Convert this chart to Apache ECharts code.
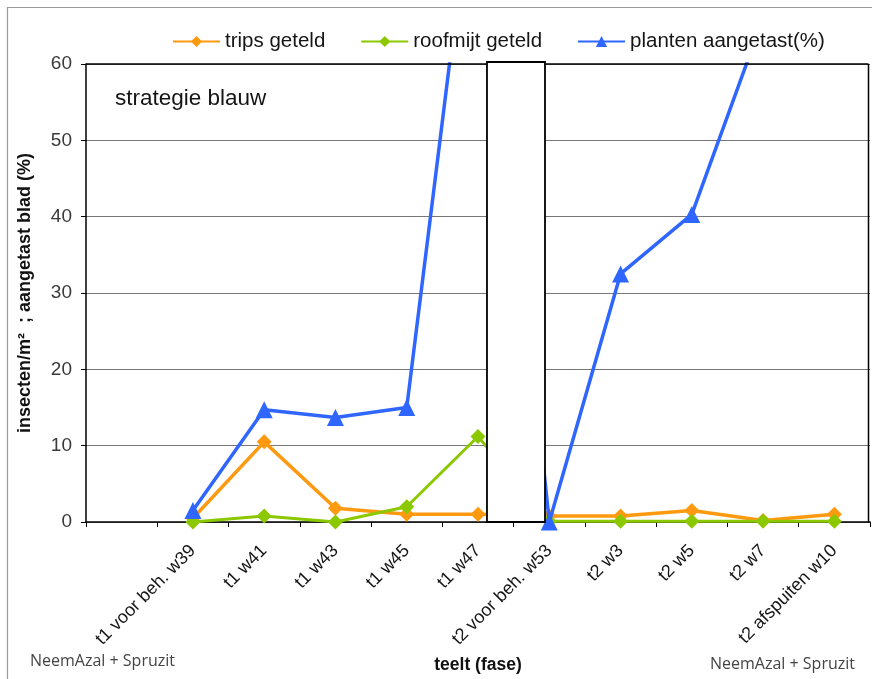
<!DOCTYPE html>
<html>
<head>
<meta charset="utf-8">
<script src="https://cdn.jsdelivr.net/npm/echarts@6/dist/echarts.min.js"></script>
<style>
html,body{margin:0;padding:0;background:#fff;}
#chart{width:872px;height:679px;}
</style>
</head>
<body>
<div id="chart"></div>
<script>
// Categories (first slot intentionally empty)
const categories = ['', 't1 voor beh. w39', 't1 w41', 't1 w43', 't1 w45', 't1 w47',
  't2 voor beh. w53', 't2 w3', 't2 w5', 't2 w7', 't2 afspuiten w10'];
const trips   = [null, 0.5, 10.5, 1.8, 1.0, 1.0, 0.8, 0.8, 1.5, 0.2, 1.0];
const roofmijt = [null, 0.0, 0.8, 0.0, 2.0, 11.2, 0.1, 0.1, 0.1, 0.1, 0.1];
const planten = [null, 1.5, 14.7, 13.7, 15.0, 90, 0.0, 32.5, 40.3, 66, null];
const yTicks = { min: 0, max: 60, interval: 10 };

const font = 'Liberation Sans, Arial, sans-serif';
const noteFont = '"Open Sans", "Noto Sans", sans-serif';
const chart = echarts.init(document.getElementById('chart'));

const option = {
  backgroundColor: '#fff',
  animation: false,
  legend: {
    top: 26,
    left: 167,
    itemWidth: 47,
    itemHeight: 14,
    itemGap: 35,
    textStyle: { fontFamily: font, fontSize: 20.5, color: '#151515' },
    data: ['trips geteld', 'roofmijt geteld', 'planten aangetast(%)']
  },
  grid: { left: 86, right: 2, top: 64, bottom: 155, containLabel: false },
  xAxis: {
    type: 'category',
    data: categories,
    boundaryGap: true,
    name: 'teelt (fase)',
    nameLocation: 'middle',
    nameGap: 134,
    nameTextStyle: { fontFamily: font, fontSize: 17.5, fontWeight: 'bold', color: '#111' },
    axisLine: { lineStyle: { color: '#000', width: 1.5 } },
    axisTick: { show: true, length: 5, inside: false, lineStyle: { color: '#000' } },
    axisLabel: { rotate: 45, interval: 0, fontFamily: font, fontSize: 18, color: '#151515', margin: 26 },
    splitLine: { show: false }
  },
  yAxis: {
    type: 'value',
    min: yTicks.min, max: yTicks.max, interval: yTicks.interval,
    name: 'insecten/m²  ; aangetast blad (%)',
    nameLocation: 'middle',
    nameGap: 52,
    nameTextStyle: { fontFamily: font, fontSize: 18, fontWeight: 'bold', color: '#111' },
    axisLine: { show: true, lineStyle: { color: '#000', width: 1.5 } },
    axisTick: { show: true, length: 5, lineStyle: { color: '#000' } },
    axisLabel: { fontFamily: font, fontSize: 19, color: '#3a3a3a', margin: 14 },
    splitLine: { show: true, lineStyle: { color: '#777', width: 1 } }
  },
  series: [
    {
      name: 'trips geteld', type: 'line', data: trips,
      symbol: 'diamond', symbolSize: 15,
      lineStyle: { color: '#FF9A10', width: 3.5 },
      itemStyle: { color: '#FF9A10' }, z: 3
    },
    {
      name: 'roofmijt geteld', type: 'line', data: roofmijt,
      symbol: 'diamond', symbolSize: 15,
      lineStyle: { color: '#8CC800', width: 3 },
      itemStyle: { color: '#8CC800' }, z: 4
    },
    {
      name: 'planten aangetast(%)', type: 'line', data: planten,
      symbol: 'triangle', symbolSize: 17,
      lineStyle: { color: '#2F66FF', width: 3.5 },
      itemStyle: { color: '#2F66FF' }, z: 5
    }
  ]
};
chart.setOption(option);

// Frame, season break panel and annotations
function drawOverlay() {
  const x5 = chart.convertToPixel({ xAxisIndex: 0 }, 't1 w47');
  const x6 = chart.convertToPixel({ xAxisIndex: 0 }, 't2 voor beh. w53');
  const yTop = chart.convertToPixel({ yAxisIndex: 0 }, yTicks.max);
  const yBot = chart.convertToPixel({ yAxisIndex: 0 }, yTicks.min);
  const xL = chart.convertToPixel({ xAxisIndex: 0 }, categories[0]);
  const step = x6 - x5;
  const gx0 = x5 + step * 0.126;
  const gx1 = x6 - step * 0.06;
  const plotLeft = xL - step / 2;
  const plotRight = xL - step / 2 + step * categories.length;
  chart.setOption({
    graphic: [
      { type: 'rect', z: 0, silent: true,
        shape: { x: 7.5, y: 7.5, width: 900, height: 700 },
        style: { fill: 'none', stroke: '#9a9a9a', lineWidth: 1.2 } },
      { type: 'line', z: 10, silent: true,
        shape: { x1: plotLeft, y1: yTop, x2: plotRight - 1.5, y2: yTop },
        style: { stroke: '#000', lineWidth: 1.5 } },
      { type: 'line', z: 10, silent: true,
        shape: { x1: plotRight - 1.5, y1: yTop, x2: plotRight - 1.5, y2: yBot },
        style: { stroke: '#000', lineWidth: 1.5 } },
      { type: 'rect', z: 20, silent: true,
        shape: { x: gx0, y: yTop - 2, width: gx1 - gx0, height: yBot - yTop + 2 },
        style: { fill: '#fff', stroke: '#000', lineWidth: 1.8 } },
      { type: 'text', z: 20, silent: true, left: 115, top: 87,
        style: { text: 'strategie blauw', font: '22.5px ' + font, fill: '#151515' } },
      { type: 'text', z: 20, silent: true, left: 30, top: 653,
        style: { text: 'NeemAzal + Spruzit', font: '16px ' + noteFont, fill: '#444' } },
      { type: 'text', z: 20, silent: true, left: 710, top: 656,
        style: { text: 'NeemAzal + Spruzit', font: '16px ' + noteFont, fill: '#444' } }
    ]
  });
}
drawOverlay();
</script>
</body>
</html>
